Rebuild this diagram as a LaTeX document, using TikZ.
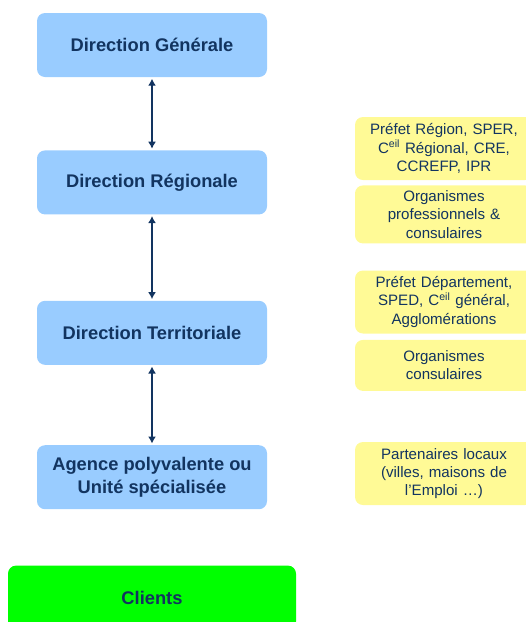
\documentclass[tikz,border=0pt]{standalone}
\usepackage{fontspec}
\setmainfont{Liberation Sans}
\definecolor{LevelBlue}{RGB}{153, 204, 255}
\definecolor{PartnerYellow}{RGB}{255, 250, 150}
\definecolor{ClientGreen}{RGB}{0, 255, 0}
\definecolor{NavyText}{RGB}{18, 52, 96}
\usetikzlibrary{arrows.meta, positioning}

\begin{document}
\begin{tikzpicture}[x=1pt, y=-1pt,
    level/.style={rectangle, rounded corners=8pt, fill=LevelBlue, minimum width=230pt, minimum height=64pt, inner sep=0pt,
        text=NavyText, align=center, font=\fontsize{18.3}{23}\selectfont\bfseries},
    partner/.style={rectangle, rounded corners=8pt, fill=PartnerYellow, minimum width=178pt, inner sep=0pt,
        text=NavyText, text width=178pt, align=center, font=\fontsize{15.1}{18.3}\selectfont},
    link/.style={{Latex[length=7pt, width=8pt]}-{Latex[length=7pt, width=8pt]}, line width=1.3pt, draw=NavyText, shorten <=1.5pt, shorten >=1.5pt}]
            \useasboundingbox (0,0) rectangle (526,622);
            \clip (0,0) rectangle (526,622);
            % niveaux
            \node[level] (gen) at (152,45) {Direction Générale};
            \node[level, below=73pt of gen] (reg) {Direction Régionale};
            \node[level, below=86pt of reg] (ter) {Direction Territoriale};
            \node[level, below=80pt of ter] (agence) {Agence polyvalente ou\\Unité spécialisée};
            \node[level, fill=ClientGreen, minimum width=288pt, below=56pt of agence] (clients) {Clients};

            % partenaires
            \node[partner, minimum height=63pt] (prefreg) at (444,148.5) {Préfet Région, SPER,\\C\textsuperscript{eil} Régional, CRE,\\CCREFP, IPR};
            \node[partner, minimum height=58pt, below=5pt of prefreg] (orgpro) {Organismes\\professionnels \&\\consulaires};
            \node[partner, minimum height=63pt] (prefdep) at (444,302) {Préfet Département,\\SPED, C\textsuperscript{eil} général,\\Agglomérations};
            \node[partner, minimum height=51pt, below=6pt of prefdep] (orgcons) {Organismes\\consulaires};
            \node[partner, minimum height=63pt] (locaux) at (444,473.5) {Partenaires locaux\\(villes, maisons de\\l’Emploi …)};

            \draw[link] (gen) -- (reg);
            \draw[link] (reg) -- (ter);
            \draw[link] (ter) -- (agence);
        \end{tikzpicture}
\end{document}
